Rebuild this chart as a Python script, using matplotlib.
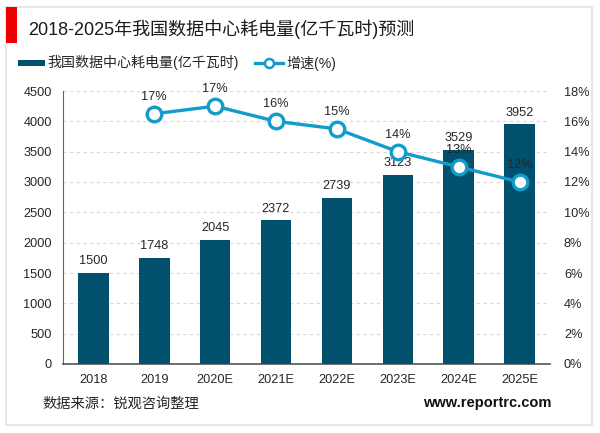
import matplotlib
matplotlib.use('Agg')
import matplotlib.pyplot as plt
from matplotlib.patches import Rectangle
from matplotlib.lines import Line2D

plt.rcParams['font.family'] = ['Liberation Sans', 'Noto Sans CJK SC', 'DejaVu Sans']

title = '2018-2025年我国数据中心耗电量(亿千瓦时)预测'
categories = ['2018', '2019', '2020E', '2021E', '2022E', '2023E', '2024E', '2025E']
consumption = [1500, 1748, 2045, 2372, 2739, 3123, 3529, 3952]
growth_years = ['2019', '2020E', '2021E', '2022E', '2023E', '2024E', '2025E']
growth = [16.5, 17.0, 16.0, 15.5, 14.0, 13.0, 12.0]
growth_labels = ['17%', '17%', '16%', '15%', '14%', '13%', '12%']
left_ticks = [0, 500, 1000, 1500, 2000, 2500, 3000, 3500, 4000, 4500]
right_ticks = [0, 2, 4, 6, 8, 10, 12, 14, 16, 18]
bar_name = '我国数据中心耗电量(亿千瓦时)'
line_name = '增速(%)'
source = '数据来源：锐观咨询整理'
site = 'www.reportrc.com'

W, H = 600, 433
fig = plt.figure(figsize=(W / 100, H / 100), dpi=100, facecolor='white')

DARK = '#00506E'
BLUE = '#129CCB'
TXT = '#262626'

# Outer frame and title marker
fig.add_artist(Rectangle((6 / W, 1 - 425 / H), 586 / W, 418 / H, transform=fig.transFigure,
                         fill=False, ec='#E4E4E4', lw=1.2))
fig.add_artist(Rectangle((6 / W, 1 - 43 / H), 11 / W, 36 / H, transform=fig.transFigure,
                         fc='#EE0000', ec='none'))

ax = fig.add_axes([63 / W, 1 - 364 / H, 487 / W, 273 / H])
x = list(range(len(categories)))
ax.set_xlim(-0.5, len(categories) - 0.5)
ax.set_ylim(0, 4500)
ax.bar(x, consumption, width=0.5, color=DARK, zorder=3)
ax.set_xticks(x, categories)
ax.set_yticks(left_ticks)
ax.tick_params(axis='both', length=0, labelsize=9.2, colors=TXT)
ax.tick_params(axis='x', pad=7)
ax.tick_params(axis='y', pad=8)
ax.grid(axis='y', color='#D9D9D9', ls=(0, (3, 3)), lw=0.8, zorder=0)
for s in ('top', 'right'):
    ax.spines[s].set_visible(False)
ax.spines['left'].set_color('#666666')
ax.spines['bottom'].set_color('#555555')
ax.spines['bottom'].set_linewidth(1.2)

for xi, v in zip(x, consumption):
    ax.annotate(str(v), (xi, v), xytext=(0, 4), textcoords='offset points',
                ha='center', va='bottom', fontsize=9.2, color=TXT, zorder=4)

ax2 = ax.twinx()
ax2.set_ylim(0, 18)
ax2.set_yticks(right_ticks, [f'{t}%' for t in right_ticks])
ax2.tick_params(axis='y', length=0, labelsize=9.2, colors=TXT, pad=10)
for s in ('top', 'left', 'bottom', 'right'):
    ax2.spines[s].set_visible(False)
gx = [categories.index(c) for c in growth_years]
ax2.plot(gx, growth, color=BLUE, lw=2.4, marker='o', ms=10.5, mfc='white', mec=BLUE, mew=2.4, zorder=5)
for xi, v, lab in zip(gx, growth, growth_labels):
    ax2.annotate(lab, (xi, v), xytext=(0, 8), textcoords='offset points',
                 ha='center', va='bottom', fontsize=9.2, color=TXT, zorder=6)

fig.text(28 / W, 1 - 29 / H, title, fontsize=13, color='#1A1A1A', va='center', ha='left')

# Legend
fig.add_artist(Rectangle((18 / W, 1 - 66 / H), 27 / W, 6 / H, transform=fig.transFigure, fc=DARK, ec='none'))
fig.text(47 / W, 1 - 63 / H, bar_name, fontsize=10.1, color=TXT, va='center', ha='left')
fig.add_artist(Line2D([255 / W, 283 / W], [1 - 63 / H, 1 - 63 / H], transform=fig.transFigure,
                      color=BLUE, lw=2.4, zorder=5))
fig.add_artist(Line2D([269 / W], [1 - 63 / H], transform=fig.transFigure, color=BLUE,
                      marker='o', ms=6.5, mfc='white', mec=BLUE, mew=1.8, zorder=6))
fig.text(286 / W, 1 - 63 / H, line_name, fontsize=10.1, color=TXT, va='center', ha='left')

fig.text(42 / W, 1 - 404 / H, source, fontsize=10.3, color=TXT, va='center', ha='left')
fig.text(551 / W, 1 - 403 / H, site, fontsize=10.5, fontweight='bold', color='#111111', va='center', ha='right')

fig.savefig('out.png', dpi=100)
